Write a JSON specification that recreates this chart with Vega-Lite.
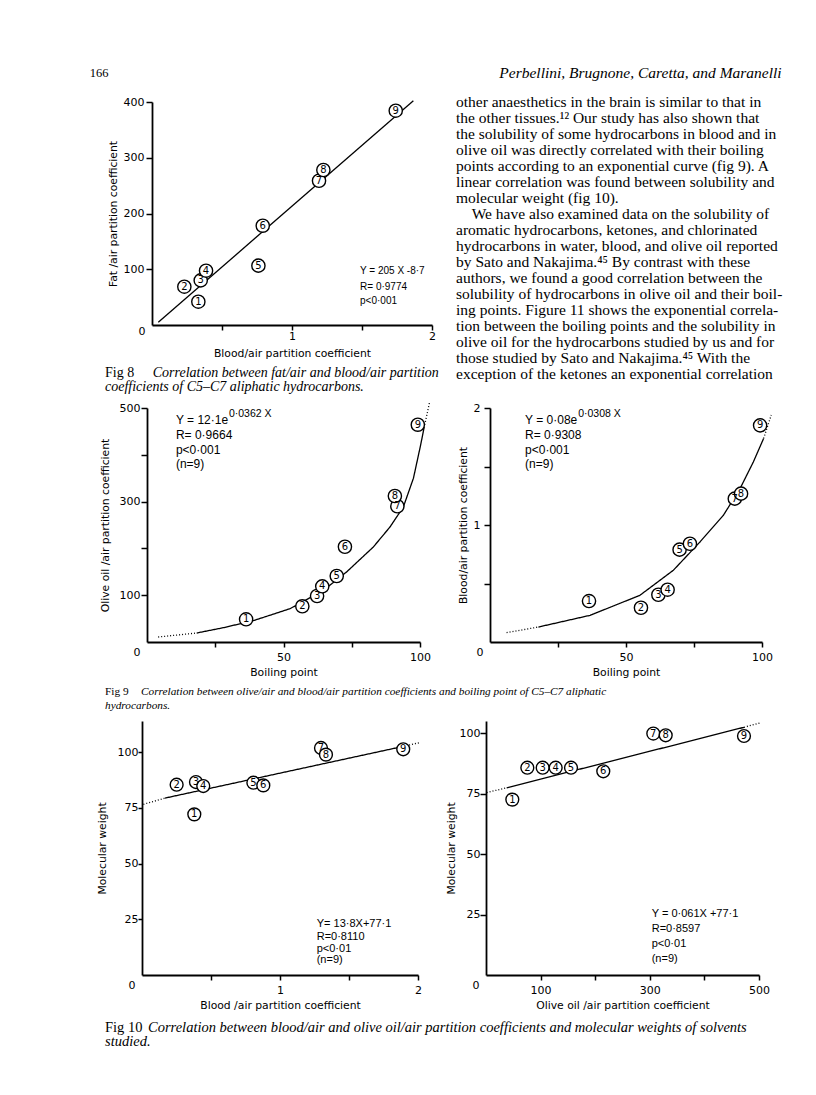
{
"$schema":"https://vega.github.io/schema/vega-lite/v6.json",
"background":"white",
"padding":0,
"autosize":{"type":"pad"},
"spacing":0,
"config":{
 "view":{"stroke":null},
 "axis":{"grid":false,"domainColor":"black","domainWidth":1.8,"tickColor":"black","tickWidth":1.5,"labelColor":"black","titleColor":"black","labelFont":"DejaVu Sans","labelFontSize":11,"titleFont":"DejaVu Sans","titleFontSize":10.8,"titleFontWeight":"normal","labelFlush":false,"labelOverlap":false,"titleBaseline":"middle","titlePadding":0},
 "text":{"color":"black","font":"Liberation Sans"},
 "line":{"color":"black","strokeWidth":1.3}
},
"datasets":{
 "f8":[{"id":"1","x":0.331,"y":41.8},{"id":"2","x":0.231,"y":68.7},{"id":"3","x":0.348,"y":80},{"id":"4","x":0.386,"y":97.4},{"id":"5","x":0.76,"y":106.4},{"id":"6","x":0.791,"y":178.1},{"id":"7","x":1.193,"y":258.8},{"id":"8","x":1.224,"y":278},{"id":"9","x":1.741,"y":384.4}],
 "f9a":[{"id":"1","x":36.3,"y":48.5},{"id":"2","x":56.9,"y":76.3},{"id":"3","x":62.3,"y":98.3},{"id":"4","x":64.2,"y":119},{"id":"5","x":69.5,"y":141},{"id":"6","x":72.5,"y":203.6},{"id":"7","x":91.7,"y":290},{"id":"8","x":90.8,"y":312},{"id":"9","x":99.2,"y":464.3}],
 "f9b":[{"id":"1","x":36.4,"y":0.35},{"id":"2","x":55.5,"y":0.293},{"id":"3","x":61.9,"y":0.404},{"id":"4","x":65.3,"y":0.447},{"id":"5","x":69.7,"y":0.789},{"id":"6","x":73.5,"y":0.84},{"id":"7","x":90,"y":1.225},{"id":"8","x":92.3,"y":1.268},{"id":"9","x":99.3,"y":1.852}],
 "f10a":[{"id":"1","x":0.379,"y":72.1},{"id":"2","x":0.251,"y":85.4},{"id":"3","x":0.391,"y":86.6},{"id":"4","x":0.444,"y":84.8},{"id":"5","x":0.807,"y":86.3},{"id":"6","x":0.879,"y":85.1},{"id":"7","x":1.297,"y":101.9},{"id":"8","x":1.333,"y":98.9},{"id":"9","x":1.893,"y":101.3}],
 "f10b":[{"id":"1","x":48.2,"y":72.5},{"id":"2","x":75.7,"y":85.7},{"id":"3","x":103.8,"y":85.7},{"id":"4","x":127.6,"y":85.7},{"id":"5","x":155.7,"y":85.7},{"id":"6","x":214.8,"y":84.2},{"id":"7","x":306.4,"y":99.8},{"id":"8","x":329.1,"y":99.1},{"id":"9","x":472.5,"y":98.8}]
},
"vconcat":[
 {"width":1,"height":58,"data":{"values":[]},"mark":"point"},
 {"spacing":0,"bounds":"flush","hconcat":[
  {"width":90,"height":30,"data":{"values":[]},"mark":"point"},
  {"width":18,"height":30,"data":{"values":[{"t":"166"}]},"mark":{"type":"text","font":"Liberation Serif","fontSize":12.5,"baseline":"middle","align":"center"},"encoding":{"text":{"field":"t"}}},
  {"width":391,"height":30,"data":{"values":[]},"mark":"point"},
  {"width":283,"height":30,"data":{"values":[{"t":"Perbellini, Brugnone, Caretta, and Maranelli"}]},"mark":{"type":"text","font":"Liberation Serif","fontStyle":"italic","fontSize":15.5,"baseline":"middle","align":"center"},"encoding":{"text":{"field":"t"}}}
 ]},
 {"width":1,"height":6,"data":{"values":[]},"mark":"point"},
 {"spacing":0,"bounds":"flush","hconcat":[
  {"width":105,"height":1,"data":{"values":[]},"mark":"point"},
  {"width":47,"height":223,
   "encoding":{
    "x":{"field":"col","type":"quantitative","scale":{"domain":[0,1],"range":[0,47.7],"nice":false},"axis":null},
    "y":{"field":"line","type":"quantitative","scale":{"domain":[1,2],"range":[271.3,284.7],"nice":false,"zero":false},"axis":null},
    "text":{"field":"t"}
   },
   "layer":[
    {"data":{"values":[{"line":1,"col":0,"t":"Fig 8"}]},"mark":{"type":"text","align":"left","baseline":"middle","font":"Liberation Serif","fontSize":14}},
    {"data":{"values":[{"line":1,"col":1,"t":"Correlation between fat/air and blood/air partition"},{"line":2,"col":0,"t":"coefficients of C5–C7 aliphatic hydrocarbons."}]},"mark":{"type":"text","align":"left","baseline":"middle","font":"Liberation Serif","fontStyle":"italic","fontSize":14}}
   ]},
  {"width":280,"height":223,
   "encoding":{
    "x":{"field":"x","type":"quantitative","scale":{"domain":[0,2],"nice":false,"zero":false},
         "axis":{"values":[0,0.5,1,1.5,2],"labelExpr":"datum.value==0.5||datum.value==1.5?'':toString(datum.value)","title":"Blood/air partition coefficient","titleY":28.3,"labelPadding":0,
                 "tickSize":{"condition":{"test":"datum.value==0","value":0},"value":5},
                 "labelAlign":{"condition":{"test":"datum.value==0","value":"right"},"value":"center"},
                 "labelOffset":{"condition":{"test":"datum.value==0","value":-7},"value":0}}},
    "y":{"field":"y","type":"quantitative","scale":{"domain":[0,400],"nice":false},
         "axis":{"values":[100,200,300,400],"title":"Fat /air partition coefficient","titleX":-39,"tickSize":6,"labelPadding":2}}
   },
   "layer":[
    {"data":{"values":[{"x":0.045,"y":4.8},{"x":1.867,"y":402.3}]},"mark":{"type":"line","color":"black","strokeWidth":1.3}},
    {"data":{"name":"f8"},"mark":{"type":"point","shape":"circle","filled":true,"fill":"white","stroke":"black","strokeWidth":1.4,"size":175,"opacity":1}},
    {"data":{"name":"f8"},"mark":{"type":"text","font":"DejaVu Sans","fontSize":10,"baseline":"middle","align":"center"},"encoding":{"text":{"field":"id"}}},
    {"data":{"values":[{"x":1.486,"y":97.4,"t":"Y = 205 X -8·7"},{"x":1.486,"y":68.7,"t":"R= 0·9774"},{"x":1.486,"y":43.6,"t":"p<0·001"}]},"mark":{"type":"text","fontSize":10,"baseline":"middle","align":"left"},"encoding":{"text":{"field":"t"}}}
   ]},
  {"width":24,"height":1,"data":{"values":[]},"mark":"point"},
  {"width":327,"height":200,
   "data":{"values":[
    {"line":1,"indent":0,"t":"other anaesthetics in the brain is similar to that in"},
    {"line":2,"indent":0,"t":"the other tissues.¹² Our study has also shown that"},
    {"line":3,"indent":0,"t":"the solubility of some hydrocarbons in blood and in"},
    {"line":4,"indent":0,"t":"olive oil was directly correlated with their boiling"},
    {"line":5,"indent":0,"t":"points according to an exponential curve (fig 9). A"},
    {"line":6,"indent":0,"t":"linear correlation was found between solubility and"},
    {"line":7,"indent":0,"t":"molecular weight (fig 10)."},
    {"line":8,"indent":1,"t":"We have also examined data on the solubility of"},
    {"line":9,"indent":0,"t":"aromatic hydrocarbons, ketones, and chlorinated"},
    {"line":10,"indent":0,"t":"hydrocarbons in water, blood, and olive oil reported"},
    {"line":11,"indent":0,"t":"by Sato and Nakajima.⁴⁵ By contrast with these"},
    {"line":12,"indent":0,"t":"authors, we found a good correlation between the"},
    {"line":13,"indent":0,"t":"solubility of hydrocarbons in olive oil and their boil-"},
    {"line":14,"indent":0,"t":"ing points. Figure 11 shows the exponential correla-"},
    {"line":15,"indent":0,"t":"tion between the boiling points and the solubility in"},
    {"line":16,"indent":0,"t":"olive oil for the hydrocarbons studied by us and for"},
    {"line":17,"indent":0,"t":"those studied by Sato and Nakajima.⁴⁵ With the"},
    {"line":18,"indent":0,"t":"exception of the ketones an exponential correlation"}
   ]},
   "mark":{"type":"text","align":"left","baseline":"middle","font":"Liberation Serif","fontSize":15.5},
   "encoding":{
    "x":{"field":"indent","type":"quantitative","scale":{"domain":[0,1],"range":[0,15.7],"nice":false},"axis":null},
    "y":{"field":"line","type":"quantitative","scale":{"domain":[1,18],"range":[-0.3,271.7],"nice":false,"zero":false},"axis":null},
    "text":{"field":"t"}
   }}
 ]},
 {"width":1,"height":5,"data":{"values":[]},"mark":"point"},
 {"spacing":0,"bounds":"flush","hconcat":[
  {"width":105,"height":1,"data":{"values":[]},"mark":"point"},
  {"width":42,"height":234,
   "encoding":{
    "x":{"field":"col","type":"quantitative","scale":{"domain":[0,1],"range":[0,36],"nice":false},"axis":null},
    "y":{"field":"line","type":"quantitative","scale":{"domain":[1,2],"range":[284,297.5],"nice":false,"zero":false},"axis":null},
    "text":{"field":"t"}
   },
   "layer":[
    {"data":{"values":[{"line":1,"col":0,"t":"Fig 9"}]},"mark":{"type":"text","align":"left","baseline":"middle","font":"Liberation Serif","fontSize":11.3}},
    {"data":{"values":[{"line":1,"col":1,"t":"Correlation between olive/air and blood/air partition coefficients and boiling point of C5–C7 aliphatic"},{"line":2,"col":0,"t":"hydrocarbons."}]},"mark":{"type":"text","align":"left","baseline":"middle","font":"Liberation Serif","fontStyle":"italic","fontSize":11.3}}
   ]},
  {"width":273,"height":234,
   "encoding":{
    "x":{"field":"x","type":"quantitative","scale":{"domain":[0,100],"nice":false,"zero":false},
         "axis":{"values":[0,25,50,75,100],"labelExpr":"datum.value==25||datum.value==75?'':toString(datum.value)","title":"Boiling point","titleY":30,"labelPadding":4.5,
                 "tickSize":{"condition":{"test":"datum.value==0","value":0},"value":5},
                 "labelAlign":{"condition":{"test":"datum.value==0","value":"right"},"value":"center"},
                 "labelOffset":{"condition":{"test":"datum.value==0","value":-7},"value":0}}},
    "y":{"field":"y","type":"quantitative","scale":{"domain":[0,500],"nice":false},
         "axis":{"values":[100,200,300,400,500],"labelExpr":"datum.value==200||datum.value==400?'':toString(datum.value)","title":"Olive oil /air partition coefficient","titleX":-42,"tickSize":6,"labelPadding":1}}
   },
   "layer":[
    {"data":{"values":[
      {"x":4.1,"y":10.7,"seg":"a"},{"x":18.2,"y":19.2,"seg":"a"},
      {"x":18.2,"y":19.2,"seg":"b"},{"x":28,"y":30.6,"seg":"b"},{"x":38.9,"y":45.5,"seg":"b"},{"x":52.4,"y":71.2,"seg":"b"},{"x":64.6,"y":110.4,"seg":"b"},{"x":73.1,"y":149.6,"seg":"b"},{"x":82.9,"y":203,"seg":"b"},{"x":89,"y":245.7,"seg":"b"},{"x":93.9,"y":288.5,"seg":"b"},{"x":97.6,"y":350,"seg":"b"},{"x":100.2,"y":420,"seg":"b"},{"x":101.5,"y":458,"seg":"b"},
      {"x":101.5,"y":458,"seg":"c"},{"x":103.5,"y":512,"seg":"c"}]},
     "mark":{"type":"line","color":"black","strokeWidth":1.3},
     "encoding":{"strokeDash":{"field":"seg","type":"nominal","scale":{"domain":["a","b","c"],"range":[[1,2],[1,0],[1,2]]},"legend":null}}},
    {"data":{"name":"f9a"},"mark":{"type":"point","shape":"circle","filled":true,"fill":"white","stroke":"black","strokeWidth":1.4,"size":175,"opacity":1}},
    {"data":{"name":"f9a"},"mark":{"type":"text","font":"DejaVu Sans","fontSize":10,"baseline":"middle","align":"center"},"encoding":{"text":{"field":"id"}}},
    {"data":{"values":[{"x":10.6,"y":473.7,"t":"Y = 12·1e"},{"x":10.6,"y":441.7,"t":"R= 0·9664"},{"x":10.6,"y":410.9,"t":"p<0·001"},{"x":10.6,"y":381,"t":"(n=9)"}]},"mark":{"type":"text","fontSize":12,"baseline":"middle","align":"left"},"encoding":{"text":{"field":"t"}}},
    {"data":{"values":[{"x":30,"y":487.8,"t":"0·0362 X"}]},"mark":{"type":"text","fontSize":10.5,"baseline":"middle","align":"left"},"encoding":{"text":{"field":"t"}}}
   ]},
  {"width":70,"height":1,"data":{"values":[]},"mark":"point"},
  {"width":272,"height":234,
   "encoding":{
    "x":{"field":"x","type":"quantitative","scale":{"domain":[0,100],"nice":false,"zero":false},
         "axis":{"values":[0,25,50,75,100],"labelExpr":"datum.value==25||datum.value==75?'':toString(datum.value)","title":"Boiling point","titleY":30,"labelPadding":4.5,
                 "tickSize":{"condition":{"test":"datum.value==0","value":0},"value":5},
                 "labelAlign":{"condition":{"test":"datum.value==0","value":"right"},"value":"center"},
                 "labelOffset":{"condition":{"test":"datum.value==0","value":-7},"value":0}}},
    "y":{"field":"y","type":"quantitative","scale":{"domain":[0,2],"nice":false},
         "axis":{"values":[0.5,1,1.5,2],"labelExpr":"datum.value==0.5||datum.value==1.5?'':toString(datum.value)","title":"Blood/air partition coefficient","titleX":-26.7,"tickSize":6,"labelPadding":4}}
   },
   "layer":[
    {"data":{"values":[
      {"x":6.1,"y":0.08,"seg":"a"},{"x":17.8,"y":0.128,"seg":"a"},
      {"x":17.8,"y":0.128,"seg":"b"},{"x":36.8,"y":0.228,"seg":"b"},{"x":55.1,"y":0.399,"seg":"b"},{"x":67.4,"y":0.613,"seg":"b"},{"x":77.2,"y":0.855,"seg":"b"},{"x":85.8,"y":1.083,"seg":"b"},{"x":91.9,"y":1.31,"seg":"b"},{"x":96.8,"y":1.538,"seg":"b"},{"x":100.6,"y":1.74,"seg":"b"},
      {"x":100.6,"y":1.74,"seg":"c"},{"x":103.4,"y":1.94,"seg":"c"}]},
     "mark":{"type":"line","color":"black","strokeWidth":1.3},
     "encoding":{"strokeDash":{"field":"seg","type":"nominal","scale":{"domain":["a","b","c"],"range":[[1,2],[1,0],[1,2]]},"legend":null}}},
    {"data":{"name":"f9b"},"mark":{"type":"point","shape":"circle","filled":true,"fill":"white","stroke":"black","strokeWidth":1.4,"size":175,"opacity":1}},
    {"data":{"name":"f9b"},"mark":{"type":"text","font":"DejaVu Sans","fontSize":10,"baseline":"middle","align":"center"},"encoding":{"text":{"field":"id"}}},
    {"data":{"values":[{"x":12.9,"y":1.895,"t":"Y = 0·08e"},{"x":12.9,"y":1.767,"t":"R= 0·9308"},{"x":12.9,"y":1.644,"t":"p<0·001"},{"x":12.9,"y":1.524,"t":"(n=9)"}]},"mark":{"type":"text","fontSize":12,"baseline":"middle","align":"left"},"encoding":{"text":{"field":"t"}}},
    {"data":{"values":[{"x":32.4,"y":1.951,"t":"0·0308 X"}]},"mark":{"type":"text","fontSize":10.5,"baseline":"middle","align":"left"},"encoding":{"text":{"field":"t"}}}
   ]}
 ]},
 {"width":1,"height":9,"data":{"values":[]},"mark":"point"},
 {"spacing":0,"bounds":"flush","hconcat":[
  {"width":105,"height":1,"data":{"values":[]},"mark":"point"},
  {"width":37,"height":254,
   "encoding":{
    "x":{"field":"col","type":"quantitative","scale":{"domain":[0,1],"range":[0,43],"nice":false},"axis":null},
    "y":{"field":"line","type":"quantitative","scale":{"domain":[1,2],"range":[307,321],"nice":false,"zero":false},"axis":null},
    "text":{"field":"t"}
   },
   "layer":[
    {"data":{"values":[{"line":1,"col":0,"t":"Fig 10"}]},"mark":{"type":"text","align":"left","baseline":"middle","font":"Liberation Serif","fontSize":14.5}},
    {"data":{"values":[{"line":1,"col":1,"t":"Correlation between blood/air and olive oil/air partition coefficients and molecular weights of solvents"},{"line":2,"col":0,"t":"studied."}]},"mark":{"type":"text","align":"left","baseline":"middle","font":"Liberation Serif","fontStyle":"italic","fontSize":14.5}}
   ]},
  {"width":276,"height":254,
   "encoding":{
    "x":{"field":"x","type":"quantitative","scale":{"domain":[0,2],"nice":false,"zero":false},
         "axis":{"values":[0,0.5,1,1.5,2],"labelExpr":"datum.value==0.5||datum.value==1.5?'':toString(datum.value)","title":"Blood /air partition coefficient","titleY":30.3,"labelPadding":4.5,
                 "tickSize":{"condition":{"test":"datum.value==0","value":0},"value":5},
                 "labelAlign":{"condition":{"test":"datum.value==0","value":"right"},"value":"center"},
                 "labelOffset":{"condition":{"test":"datum.value==0","value":-7},"value":0}}},
    "y":{"field":"y","type":"quantitative","scale":{"domain":[0,114],"nice":false},
         "axis":{"values":[25,50,75,100],"title":"Molecular weight","titleX":-39.3,"tickSize":4,"labelPadding":0}}
   },
   "layer":[
    {"data":{"values":[
      {"x":0.01,"y":76.6,"seg":"a"},{"x":0.167,"y":79.4,"seg":"a"},
      {"x":0.167,"y":79.4,"seg":"b"},{"x":1.893,"y":102.6,"seg":"b"},
      {"x":1.893,"y":102.6,"seg":"c"},{"x":2.02,"y":104.4,"seg":"c"}]},
     "mark":{"type":"line","color":"black","strokeWidth":1.3},
     "encoding":{"strokeDash":{"field":"seg","type":"nominal","scale":{"domain":["a","b","c"],"range":[[1,2],[1,0],[1,2]]},"legend":null}}},
    {"data":{"name":"f10a"},"mark":{"type":"point","shape":"circle","filled":true,"fill":"white","stroke":"black","strokeWidth":1.4,"size":165,"opacity":1}},
    {"data":{"name":"f10a"},"mark":{"type":"text","font":"DejaVu Sans","fontSize":10,"baseline":"middle","align":"center"},"encoding":{"text":{"field":"id"}}},
    {"data":{"values":[{"x":1.266,"y":22.8,"t":"Y= 13·8X+77·1"},{"x":1.266,"y":17.1,"t":"R=0·8110"},{"x":1.266,"y":11.8,"t":"p<0·01"},{"x":1.266,"y":6.9,"t":"(n=9)"}]},"mark":{"type":"text","fontSize":11,"baseline":"middle","align":"left"},"encoding":{"text":{"field":"t"}}}
   ]},
  {"width":68,"height":1,"data":{"values":[]},"mark":"point"},
  {"width":273,"height":254,
   "encoding":{
    "x":{"field":"x","type":"quantitative","scale":{"domain":[0,500],"nice":false,"zero":false},
         "axis":{"values":[0,100,200,300,400,500],"labelExpr":"datum.value==200||datum.value==400?'':toString(datum.value)","title":"Olive oil /air partition coefficient","titleY":30.3,"labelPadding":4.5,
                 "tickSize":{"condition":{"test":"datum.value==0","value":0},"value":5},
                 "labelAlign":{"condition":{"test":"datum.value==0","value":"right"},"value":"center"},
                 "labelOffset":{"condition":{"test":"datum.value==0","value":-7},"value":0}}},
    "y":{"field":"y","type":"quantitative","scale":{"domain":[0,105],"nice":false},
         "axis":{"values":[25,50,75,100],"title":"Molecular weight","titleX":-34.3,"tickSize":6,"labelPadding":0}}
   },
   "layer":[
    {"data":{"values":[
      {"x":1.2,"y":75.4,"seg":"a"},{"x":37.9,"y":77.4,"seg":"a"},
      {"x":37.9,"y":77.4,"seg":"b"},{"x":472.5,"y":102.4,"seg":"b"},
      {"x":472.5,"y":102.4,"seg":"c"},{"x":501.8,"y":104.2,"seg":"c"}]},
     "mark":{"type":"line","color":"black","strokeWidth":1.3},
     "encoding":{"strokeDash":{"field":"seg","type":"nominal","scale":{"domain":["a","b","c"],"range":[[1,2],[1,0],[1,2]]},"legend":null}}},
    {"data":{"name":"f10b"},"mark":{"type":"point","shape":"circle","filled":true,"fill":"white","stroke":"black","strokeWidth":1.4,"size":165,"opacity":1}},
    {"data":{"name":"f10b"},"mark":{"type":"text","font":"DejaVu Sans","fontSize":10,"baseline":"middle","align":"center"},"encoding":{"text":{"field":"id"}}},
    {"data":{"values":[{"x":303.5,"y":25.1,"t":"Y = 0·061X +77·1"},{"x":303.5,"y":19.1,"t":"R=0·8597"},{"x":303.5,"y":12.7,"t":"p<0·01"},{"x":303.5,"y":6.5,"t":"(n=9)"}]},"mark":{"type":"text","fontSize":11,"baseline":"middle","align":"left"},"encoding":{"text":{"field":"t"}}}
   ]}
 ]}
]
}
